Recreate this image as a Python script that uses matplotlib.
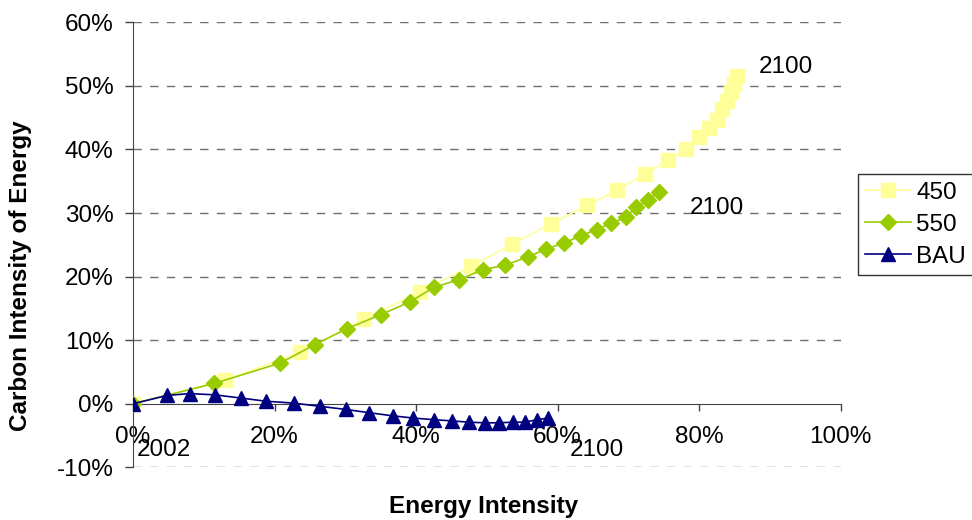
import matplotlib
matplotlib.use("Agg")
import matplotlib.pyplot as plt
from matplotlib.ticker import FuncFormatter

plt.rcParams['font.family'] = ['Liberation Sans', 'DejaVu Sans']

# Data (percent)
x450 = [0.0, 13.0, 23.6, 32.7, 40.5, 47.7, 53.6, 59.0, 64.2, 68.4, 72.3, 75.6,
        78.2, 80.0, 81.4, 82.5, 83.3, 84.0, 84.5, 84.9, 85.3]
y450 = [0.0, 3.7, 8.1, 13.3, 17.6, 21.6, 25.1, 28.3, 31.2, 33.6, 36.1, 38.3,
        40.1, 41.9, 43.3, 44.7, 46.3, 47.7, 49.0, 50.3, 51.6]

x550 = [0.0, 11.5, 20.8, 25.7, 30.2, 35.0, 39.1, 42.5, 46.0, 49.5, 52.6, 55.8,
        58.3, 60.9, 63.3, 65.5, 67.6, 69.6, 71.1, 72.8, 74.3]
y550 = [0.0, 3.2, 6.4, 9.3, 11.8, 14.0, 16.0, 18.3, 19.5, 21.1, 21.8, 23.1,
        24.3, 25.3, 26.4, 27.4, 28.4, 29.3, 30.9, 32.1, 33.3]

xBAU = [0.0, 4.8, 8.0, 11.6, 15.2, 18.8, 22.7, 26.4, 30.1, 33.3, 36.7, 39.6,
        42.5, 45.1, 47.5, 49.8, 51.7, 53.7, 55.4, 57.1, 58.7]
yBAU = [0.0, 1.3, 1.6, 1.4, 0.9, 0.4, 0.1, -0.4, -0.9, -1.4, -1.9, -2.25,
        -2.5, -2.7, -2.9, -3.0, -3.0, -2.9, -2.9, -2.5, -2.25]

series_names = ['450', '550', 'BAU']

# Point labels: (text, x, y)
point_labels = [('2100', 92.2, 52.9), ('2100', 82.5, 30.8),
                ('2100', 65.6, -7.2), ('2002', 4.4, -7.2)]

xticks = [0, 20, 40, 60, 80, 100]
yticks = [-10, 0, 10, 20, 30, 40, 50, 60]

FS = 17.5

fig = plt.figure(figsize=(9.72, 5.2), dpi=100)
ax = fig.add_axes([0.1368, 0.1013, 0.7281, 0.8558])

c450 = '#FFFF99'
c550 = '#99CC00'
cBAU = '#000080'

ax.plot([v / 100 for v in x450], [v / 100 for v in y450], color=c450, lw=1.2,
        marker='s', ms=10.5, mec=c450, mfc=c450, label=series_names[0], zorder=3)
ax.plot([v / 100 for v in x550], [v / 100 for v in y550], color=c550, lw=1.2,
        marker='D', ms=8, mec=c550, mfc=c550, label=series_names[1], zorder=4)
ax.plot([v / 100 for v in xBAU], [v / 100 for v in yBAU], color=cBAU, lw=1.2,
        marker='^', ms=10, mec=cBAU, mfc=cBAU, label=series_names[2], zorder=5)

for txt, px, py in point_labels:
    ax.text(px / 100, py / 100, txt, fontsize=FS, ha='center', va='center',
            color='black', zorder=6)

ax.set_xlim(0, 1.0)
ax.set_ylim(-0.10, 0.60)
ax.set_xticks([t / 100 for t in xticks])
ax.set_yticks([t / 100 for t in yticks])
pct = FuncFormatter(lambda v, p: f"{round(v * 100):d}%")
ax.xaxis.set_major_formatter(pct)
ax.yaxis.set_major_formatter(pct)

for v in yticks:
    if v != 0:
        ax.axhline(v / 100, color='#6e6e6e', lw=1.0, ls=(0, (6, 6)), zorder=1)

ax.spines['top'].set_visible(False)
ax.spines['right'].set_visible(False)
ax.spines['bottom'].set_position(('data', 0))
ax.spines['bottom'].set_color('#444444')
ax.spines['left'].set_color('#444444')
ax.spines['bottom'].set_zorder(2)

ax.tick_params(axis='x', direction='out', length=5, width=1, pad=11,
               labelsize=FS, colors='#444444', labelcolor='black')
ax.tick_params(axis='y', direction='out', length=6, width=1, pad=8,
               labelsize=FS, colors='#444444', labelcolor='black')

fig.text(0.498, 0.025, 'Energy Intensity', fontsize=FS, fontweight='bold',
         ha='center', va='center')
fig.text(0.021, 0.47, 'Carbon Intensity of Energy', fontsize=FS,
         fontweight='bold', ha='center', va='center', rotation=90)

leg = ax.legend(loc='upper left', bbox_to_anchor=(0.8825, 0.665),
                bbox_transform=fig.transFigure, fontsize=FS, frameon=True,
                fancybox=False, edgecolor='black', borderpad=0.3,
                handlelength=1.9, handletextpad=0.2, labelspacing=0.42,
                borderaxespad=0)
leg.get_frame().set_linewidth(1.0)

fig.savefig('out.png', dpi=100)
